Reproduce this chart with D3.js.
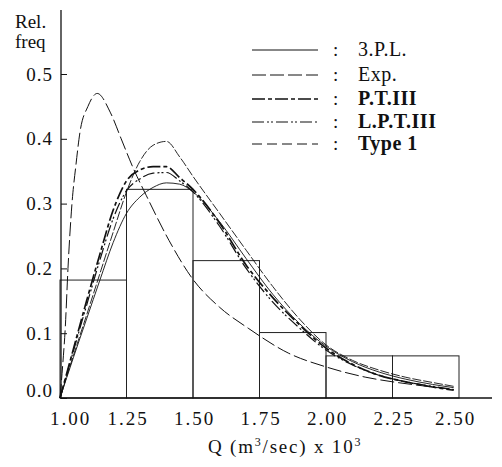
<!DOCTYPE html>
<html>
<head>
<meta charset="utf-8">
<script src="https://cdn.jsdelivr.net/npm/d3@7/dist/d3.min.js"></script>
<style>
  html, body { margin: 0; padding: 0; background: #fff; }
  svg { display: block; }
  text { font-family: "Liberation Serif", "Times New Roman", serif; fill: #111; }
</style>
</head>
<body>
<svg id="chart" width="502" height="467"></svg>
<script>
// ---------- data ----------
const binEdges = [1.00, 1.25, 1.50, 1.75, 2.00, 2.25, 2.50];
const binFreq  = [0.182, 0.322, 0.212, 0.101, 0.065, 0.065];

const qGrid = [1.00,1.05,1.10,1.15,1.20,1.25,1.30,1.35,1.40,1.45,1.50,1.60,1.70,1.80,1.90,2.00,2.10,2.20,2.30,2.40,2.48];
const tplValues   = [0,0.062,0.122,0.182,0.240,0.285,0.310,0.325,0.332,0.330,0.318,0.272,0.215,0.160,0.115,0.080,0.056,0.040,0.029,0.021,0.016];
const pt3Values   = [0,0.075,0.150,0.222,0.290,0.335,0.352,0.357,0.357,0.340,0.322,0.270,0.205,0.155,0.113,0.077,0.052,0.035,0.025,0.017,0.012];
const lpt3Values  = [0,0.072,0.143,0.213,0.277,0.320,0.338,0.347,0.348,0.335,0.318,0.265,0.200,0.148,0.108,0.074,0.051,0.035,0.025,0.018,0.013];
const type1Values = [0,0.065,0.128,0.192,0.256,0.318,0.365,0.390,0.396,0.372,0.342,0.285,0.228,0.172,0.122,0.082,0.058,0.043,0.032,0.024,0.018];

const expQ      = [1.00,1.01,1.02,1.03,1.045,1.06,1.075,1.105,1.14,1.19,1.23,1.275,1.325,1.41,1.50,1.60,1.71,1.86,2.00,2.15,2.25,2.38,2.48];
const expValues = [0,0.05,0.11,0.20,0.30,0.36,0.41,0.45,0.47,0.44,0.40,0.355,0.312,0.243,0.183,0.140,0.107,0.069,0.048,0.032,0.025,0.018,0.013];

const xTicks = [1.00, 1.25, 1.50, 1.75, 2.00, 2.25, 2.50];
const yTicks = [0.0, 0.1, 0.2, 0.3, 0.4, 0.5];
const legendLabels = ["3.P.L.", "Exp.", "P.T.III", "L.P.T.III", "Type 1"];

// ---------- scales ----------
const svg = d3.select("#chart");
const x = d3.scaleLinear().domain([1.0, 2.5]).range([60, 459]);
const y = d3.scaleLinear().domain([0, 0.5]).range([398, 74]);

// ---------- styles ----------
const styles = {
  "3.P.L.":   {dash: null,              width: 0.9, bold: false},
  "Exp.":     {dash: "14,4",            width: 1.0, bold: false},
  "P.T.III":  {dash: "13,3,4,3",        width: 1.7, bold: true},
  "L.P.T.III":{dash: "12,3,2,2,2,3",    width: 1.2, bold: true},
  "Type 1":   {dash: "9,2",             width: 0.9, bold: true}
};

// ---------- histogram ----------
const bins = binFreq.map((f, i) => ({x0: binEdges[i], x1: binEdges[i+1], f}));
svg.append("g").selectAll("rect").data(bins).join("rect")
  .attr("x", d => x(d.x0))
  .attr("y", d => y(d.f))
  .attr("width", d => x(d.x1) - x(d.x0))
  .attr("height", d => y(0) - y(d.f))
  .attr("fill", "none")
  .attr("stroke", "#222")
  .attr("stroke-width", 1);

// ---------- curves ----------
const line = d3.line().x(d => x(d[0])).y(d => y(d[1])).curve(d3.curveMonotoneX);
const series = [
  {name: "3.P.L.",    pts: qGrid.map((q, i) => [q, tplValues[i]])},
  {name: "Type 1",    pts: qGrid.map((q, i) => [q, type1Values[i]])},
  {name: "L.P.T.III", pts: qGrid.map((q, i) => [q, lpt3Values[i]])},
  {name: "P.T.III",   pts: qGrid.map((q, i) => [q, pt3Values[i]])},
  {name: "Exp.",      pts: expQ.map((q, i) => [q, expValues[i]])}
];
svg.append("g").selectAll("path").data(series).join("path")
  .attr("d", d => line(d.pts))
  .attr("fill", "none")
  .attr("stroke", "#111")
  .attr("stroke-width", d => styles[d.name].width)
  .attr("stroke-dasharray", d => styles[d.name].dash);

// ---------- axes ----------
const xAxis = svg.append("g").attr("transform", "translate(0,398)")
  .call(d3.axisBottom(x).tickValues(xTicks).tickSize(0).tickPadding(14).tickFormat(d3.format(".2f")));
xAxis.select(".domain").remove();
xAxis.selectAll("text").attr("font-size", 19).attr("letter-spacing", "2px")
  .attr("font-family", "Liberation Serif")
  .attr("dx", (d, i) => i === 0 ? 10 : (d === 2.5 ? -4 : 1));

const yAxis = svg.append("g").attr("transform", "translate(61,0)")
  .call(d3.axisLeft(y).tickValues(yTicks).tickSizeInner(-6).tickSizeOuter(0).tickPadding(8).tickFormat(d3.format(".1f")));
yAxis.select(".domain").remove();
yAxis.selectAll(".tick line").attr("stroke", "#111");
yAxis.selectAll("text").attr("font-size", 19).attr("letter-spacing", "1px")
  .attr("font-family", "Liberation Serif")
  .attr("dy", d => d === 0 ? "-0.1em" : "0.32em");

svg.append("line").attr("x1", 61).attr("x2", 61).attr("y1", 10).attr("y2", 398)
  .attr("stroke", "#111").attr("stroke-width", 1.3);
svg.append("line").attr("x1", 60).attr("x2", 492).attr("y1", 398).attr("y2", 398)
  .attr("stroke", "#111").attr("stroke-width", 1.3);

// ---------- axis titles ----------
svg.append("text").attr("x", 15).attr("y", 28).attr("font-size", 19).text("Rel.");
svg.append("text").attr("x", 15).attr("y", 48).attr("font-size", 19).text("freq");

const qt = svg.append("text").attr("x", 208).attr("y", 453).attr("font-size", 19).attr("letter-spacing", "1.8px");
qt.append("tspan").text("Q (m");
qt.append("tspan").attr("font-size", 12).attr("dy", -7).text("3");
qt.append("tspan").attr("dy", 7).text("/sec) x 10");
qt.append("tspan").attr("font-size", 12).attr("dy", -7).text("3");

// ---------- legend ----------
const legendY = [50, 75, 99, 122, 144];
const leg = svg.append("g").selectAll("g").data(legendLabels).join("g")
  .attr("transform", (d, i) => `translate(0,${legendY[i]})`);
leg.append("line").attr("x1", 252).attr("x2", 318).attr("y1", 0).attr("y2", 0)
  .attr("stroke", "#111")
  .attr("stroke-width", d => Math.max(1, styles[d].width))
  .attr("stroke-dasharray", d => styles[d].dash === "9,2" ? "10,5" : styles[d].dash);
leg.append("text").attr("x", 333).attr("y", 6).attr("font-size", 19).text(":");
leg.append("text").attr("x", 358).attr("y", 6).attr("font-size", 20).attr("letter-spacing", "0.5px")
  .attr("font-weight", d => styles[d].bold ? "bold" : "normal")
  .text(d => d);
</script>
</body>
</html>
